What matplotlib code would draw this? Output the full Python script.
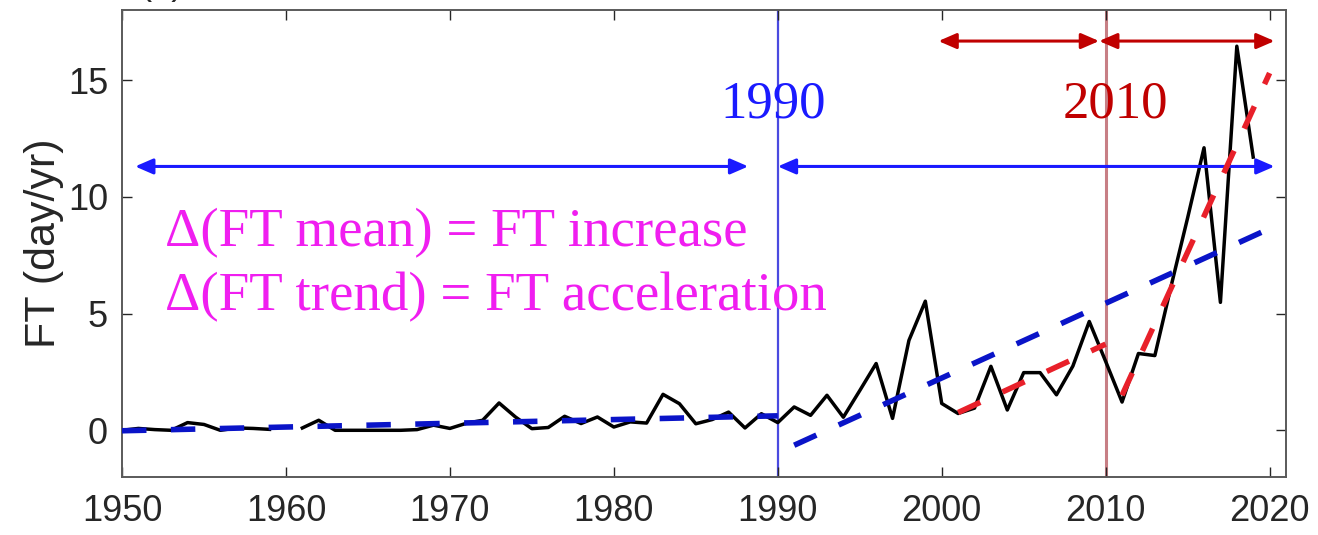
import numpy as np
import matplotlib
matplotlib.use("Agg")
import matplotlib.pyplot as plt

plt.rcParams.update({
    "font.family": "Liberation Sans",
    "font.size": 26,
})

# yearly FT values (day/yr), 1960 missing
years = np.arange(1950, 2020)
ft = [0.0, 0.08, 0.03, 0.0, 0.33, 0.25, 0.0, 0.1, 0.08, 0.04,
      np.nan, 0.1, 0.43, 0.0, 0.0, 0.0, 0.0, 0.0, 0.03, 0.22,
      0.08, 0.3, 0.43, 1.17, 0.57, 0.07, 0.12, 0.6, 0.29, 0.57,
      0.14, 0.36, 0.31, 1.54, 1.14, 0.28, 0.46, 0.78, 0.1, 0.71,
      0.33, 1.0, 0.64, 1.5, 0.56, 1.7, 2.86, 0.51, 3.85, 5.53,
      1.15, 0.72, 0.95, 2.74, 0.87, 2.47, 2.47, 1.52, 2.75, 4.66,
      2.95, 1.21, 3.29, 3.2, 6.2, 9.1, 12.1, 5.48, 16.45, 11.7]

# linear trends (start/end)
blue1_x = [1950, 1990]
blue1_y = [-0.02, 0.62]
blue2_x = [1991, 2020]
blue2_y = [-0.64, 8.64]
red1_x = [2001, 2010]
red1_y = [0.76, 3.69]
red2_x = [2011, 2020]
red2_y = [1.5, 15.3]

split_years = [1990, 2010]
blue_arrows = [(1950.8, 1988.2), (1990.0, 2020.3)]
red_arrows = [(1999.8, 2009.6), (2009.6, 2020.3)]
blue_arrow_y = 11.3
red_arrow_y = 16.67

BLUE_TREND = "#0a14c8"
RED_TREND = "#e8202a"
BLUE = "#1a1aff"
DARKRED = "#c00000"
MAGENTA = "#f01ef0"
SERIF = "Liberation Serif"

fig = plt.figure(figsize=(13.18, 5.35), dpi=100)
ax = fig.add_axes([122 / 1318, 1 - 477 / 535, 1164 / 1318, 467 / 535])

ax.axvline(split_years[0], color="#4a4ae0", lw=1.6, zorder=1)
ax.axvline(split_years[1], color="#b5545c", lw=2.2, alpha=0.75, zorder=1)

ax.plot(years, ft, color="black", lw=2.5, zorder=3)

dash = (4.4, 4.4)
for xs, ys, c in [(blue1_x, blue1_y, BLUE_TREND), (blue2_x, blue2_y, BLUE_TREND),
                  (red1_x, red1_y, RED_TREND), (red2_x, red2_y, RED_TREND)]:
    ax.plot(xs, ys, color=c, lw=4.0, dashes=dash, dash_capstyle="butt", zorder=4)

arrow_style = "<|-|>,head_length=0.6,head_width=0.26"
for x0, x1 in blue_arrows:
    ax.annotate("", xy=(x1, blue_arrow_y), xytext=(x0, blue_arrow_y),
                arrowprops=dict(arrowstyle=arrow_style, color=BLUE, lw=2.2,
                                mutation_scale=18, shrinkA=0, shrinkB=0))
for x0, x1 in red_arrows:
    ax.annotate("", xy=(x1, red_arrow_y), xytext=(x0, red_arrow_y),
                arrowprops=dict(arrowstyle=arrow_style, color=DARKRED, lw=2.2,
                                mutation_scale=18, shrinkA=0, shrinkB=0))

ax.text(1986.5, 13.4, "1990", color=BLUE, family=SERIF, fontsize=38, va="baseline")
ax.text(2007.4, 13.4, "2010", color=DARKRED, family=SERIF, fontsize=38, va="baseline")
ax.text(1952.6, 7.9, "Δ(FT mean) = FT increase", color=MAGENTA, family=SERIF,
        fontsize=39.5, va="baseline")
ax.text(1952.6, 5.15, "Δ(FT trend) = FT acceleration", color=MAGENTA, family=SERIF,
        fontsize=39.5, va="baseline")

# title, mostly cut off by the top edge as in the source figure
fig.text(140 / 1318, 1 + 6 / 535, "(a)", fontsize=26, color="#262626", va="baseline")

ax.set_xlim(1950, 2021)
ax.set_ylim(-2, 18)
ax.set_xticks(np.arange(1950, 2021, 10))
ax.set_yticks([0, 5, 10, 15])
ax.tick_params(direction="in", top=True, right=True, length=7, width=1.0,
               colors="#262626", labelcolor="#262626")
ax.tick_params(axis="x", pad=12)
ax.tick_params(axis="y", pad=10)
ax.set_ylabel("FT (day/yr)", fontsize=31, color="#262626", labelpad=3)
for s in ax.spines.values():
    s.set_color("#5a5a5a")
    s.set_linewidth(1.4)

fig.savefig("out.png", dpi=100)
